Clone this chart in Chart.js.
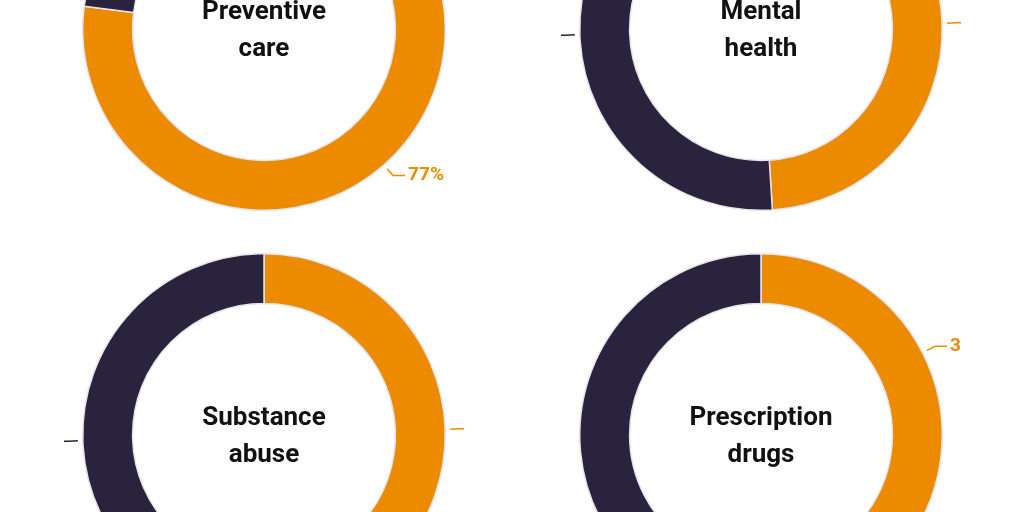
<!DOCTYPE html>
<html><head><meta charset="utf-8">
<script src="https://cdn.jsdelivr.net/npm/chart.js@4"></script>
<style>
body{margin:0;width:1024px;height:512px;overflow:hidden;background:#fff;position:relative;font-family:Roboto,sans-serif}
.box{position:absolute;width:400px;height:400px}
.title{position:absolute;width:400px;text-align:center;font-weight:bold;font-size:26px;line-height:37px;color:#111;top:0;left:0}
</style></head><body>
<script>
// Share of each topic (orange = first, dark = second)
const topics = ['Preventive care', 'Mental health', 'Substance abuse', 'Prescription drugs'];
const orangeShare = [77, 49, 49, 35];
const darkShare = [23, 51, 51, 65];
const centers = [[264, 29], [761, 29], [264, 435], [761, 435]];
const colors = ['#ec8b00', '#29233d'];

const labelPlugin = {
    id: 'leaders',
    afterDatasetsDraw(chart) {
        const ctx = chart.ctx;
        const meta = chart.getDatasetMeta(0);
        meta.data.forEach((arc, i) => {
            const mid = (arc.startAngle + arc.endAngle) / 2;
            const r = arc.outerRadius;
            const cos = Math.cos(mid), sin = Math.sin(mid);
            const x1 = arc.x + cos * (r + 5), y1 = arc.y + sin * (r + 5);
            const x2 = arc.x + cos * (r + 14), y2 = arc.y + sin * (r + 14);
            const dir = cos >= 0 ? 1 : -1;
            const x3 = x2 + dir * 12;
            ctx.save();
            ctx.strokeStyle = colors[i];
            ctx.lineWidth = 1.5;
            ctx.beginPath();
            ctx.moveTo(x1, y1); ctx.lineTo(x2, y2); ctx.lineTo(x3, y2);
            ctx.stroke();
            ctx.fillStyle = colors[i];
            ctx.font = 'bold 19px Roboto, sans-serif';
            ctx.textBaseline = 'middle';
            ctx.textAlign = dir > 0 ? 'left' : 'right';
            ctx.fillText(chart.data.datasets[0].data[i] + '%', x3 + dir * 3, y2);
            ctx.restore();
        });
    }
};

topics.forEach((name, k) => {
    const [cx, cy] = centers[k];
    const box = document.createElement('div');
    box.className = 'box';
    box.style.left = (cx - 200) + 'px';
    box.style.top = (cy - 200) + 'px';
    box.innerHTML = '<canvas width="400" height="400"></canvas>';
    const words = name.split(' ');
    const t = document.createElement('div');
    t.className = 'title';
    t.innerHTML = words.join('<br>');
    t.style.top = (200 - 37) + 'px';
    box.appendChild(t);
    document.body.appendChild(box);
    new Chart(box.querySelector('canvas'), {
        type: 'doughnut',
        data: {
            labels: ['Yes', 'No'],
            datasets: [{
                data: [orangeShare[k], darkShare[k]],
                backgroundColor: colors,
                borderColor: '#e8e4ee',
                borderWidth: 1.5
            }]
        },
        options: {
            responsive: false,
            animation: false,
            cutout: '72.5%',
            layout: { padding: 18 },
            plugins: { legend: { display: false }, tooltip: { enabled: false } }
        },
        plugins: [labelPlugin]
    });
});
</script>
</body></html>
